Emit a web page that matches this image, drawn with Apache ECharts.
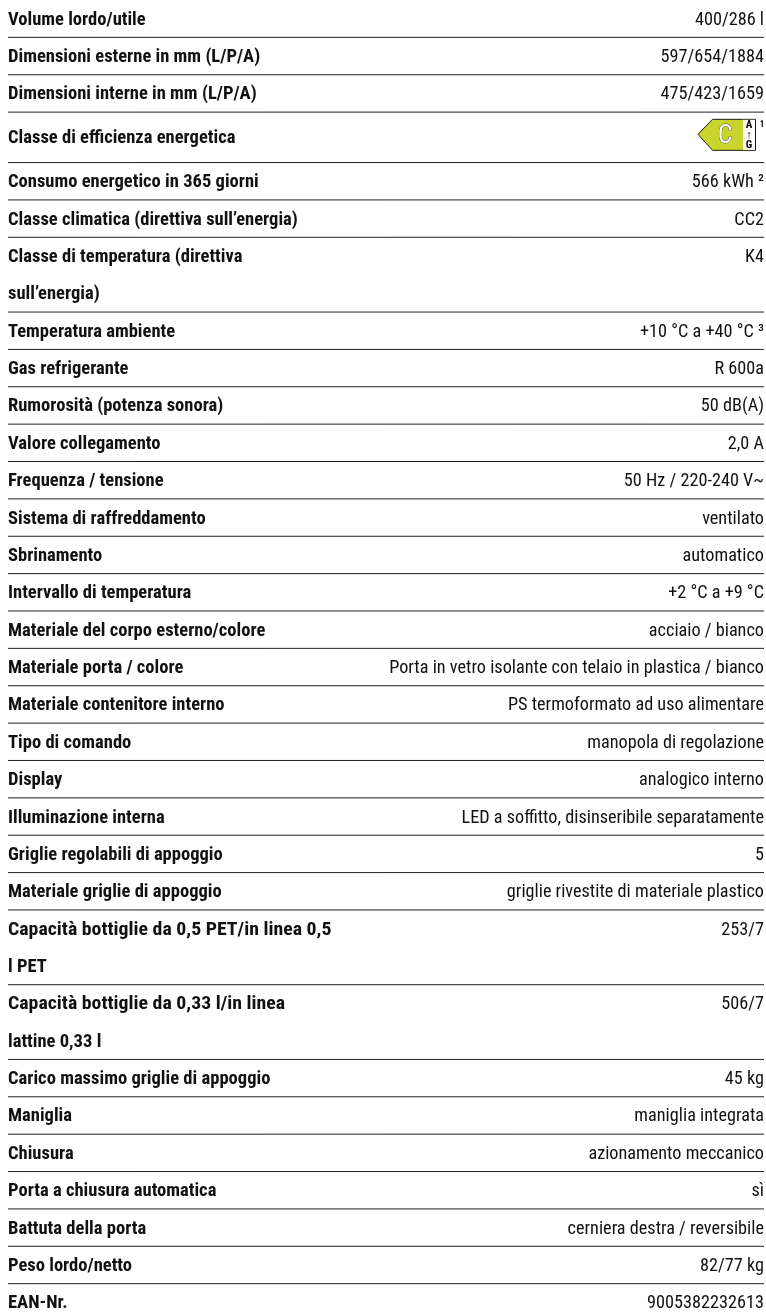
<!DOCTYPE html>
<html><head><meta charset="utf-8">
<style>html,body{margin:0;padding:0;background:#fff}#c{width:766px;height:1314px}</style>
<script src="https://cdn.jsdelivr.net/npm/echarts@6/dist/echarts.min.js"></script>
</head><body><div id="c"></div>
<script>
const labels = [
"Volume lordo/utile","Dimensioni esterne in mm (L/P/A)","Dimensioni interne in mm (L/P/A)","Classe di efficienza energetica",
"Consumo energetico in 365 giorni","Classe climatica (direttiva sull’energia)","Classe di temperatura (direttiva\nsull’energia)",
"Temperatura ambiente","Gas refrigerante","Rumorosità (potenza sonora)","Valore collegamento","Frequenza / tensione",
"Sistema di raffreddamento","Sbrinamento","Intervallo di temperatura","Materiale del corpo esterno/colore","Materiale porta / colore",
"Materiale contenitore interno","Tipo di comando","Display","Illuminazione interna","Griglie regolabili di appoggio",
"Materiale griglie di appoggio","Capacità bottiglie da 0,5 PET/in linea 0,5\nl PET","Capacità bottiglie da 0,33 l/in linea\nlattine 0,33 l",
"Carico massimo griglie di appoggio","Maniglia","Chiusura","Porta a chiusura automatica","Battuta della porta","Peso lordo/netto","EAN-Nr."];
const values = [
"400/286 l","597/654/1884","475/423/1659","","566 kWh ²","CC2","K4","+10 °C a +40 °C ³","R 600a","50 dB(A)","2,0 A","50 Hz / 220-240 V~",
"ventilato","automatico","+2 °C a +9 °C","acciaio / bianco","Porta in vetro isolante con telaio in plastica / bianco",
"PS termoformato ad uso alimentare","manopola di regolazione","analogico interno","LED a soffitto, disinseribile separatamente","5",
"griglie rivestite di materiale plastico","253/7","506/7","45 kg","maniglia integrata","azionamento meccanico","sì","cerniera destra / reversibile","82/77 kg","9005382232613"];
const energyClass = "C";
const energyScale = ["A","↑","G"];
const energyNote = "1";
const ENERGY_ROW = 3, ENERGY_SPAN = 1.35, ROW = 37.37;
const FONT = '"Liberation Sans Narrow", "Roboto Condensed", Roboto, sans-serif';

let cursor = 0;
const rows = labels.map((l,i)=>{
  const n = l.split("\n").length, span = i===ENERGY_ROW ? ENERGY_SPAN : n;
  const r = [i, cursor, cursor+span]; cursor += span; return r;
});
function txt(x,y,s,bold,align,size,fill,sx){
  return {type:'text',x,y,scaleX:sx||1,silent:true,style:{text:s,fill:fill||'#111',align,verticalAlign:'middle',
    font:`${bold?'bold ':''}${size||18}px ${FONT}`}};
}
function renderItem(p,api){
  const i=api.value(0), t=api.value(1), b=api.value(2);
  const L=api.coord([8,t])[0], R=api.coord([764,t])[0];
  const yb=api.coord([0,b])[1], yt=api.coord([0,t])[1];
  const ch=[];
  const parts=labels[i].split("\n");
  parts.forEach((s,k)=>{
    ch.push(txt(L,yt+(yb-yt)*(k+0.5)/parts.length+1.5,s,true,'left',18,null,s.startsWith('Capacità')?1.1:1.03));
  });
  const vy=yt+(yb-yt)*0.5/parts.length+1.5;
  if(values[i]) ch.push(txt(R,vy,values[i],false,'right',18,null,1.012));
  if(i===ENERGY_ROW){
    const c=(yt+yb)/2-3;
    ch.push({type:'polygon',silent:true,shape:{points:[[R-66,c],[R-51.5,c-15],[R-8.5,c-15],[R-8.5,c+16],[R-51.5,c+16]]},
      style:{fill:'#c9d52c',stroke:'#1b1b1b',lineWidth:1}});
    ch.push({type:'rect',silent:true,shape:{x:R-21,y:c-14.5,width:12,height:30},style:{fill:'#fff'}});
    ch.push({type:'text',x:R-39,y:c+2,silent:true,style:{text:energyClass,fill:'#fff',stroke:'#333',lineWidth:0.8,align:'center',verticalAlign:'middle',font:`26px ${FONT}`}});
    energyScale.forEach((s,k)=>ch.push(txt(R-15,c-9+k*10,s,true,'center',11,'#000')));
    ch.push(txt(R-2,c-10,energyNote,true,'center',9));
  }
  if(i<labels.length-1){
    ch.push({type:'line',silent:true,shape:{x1:L,y1:yb,x2:R,y2:yb},style:{stroke:'#222',lineWidth:1}});
  }
  return {type:'group',children:ch};
}
const chart=echarts.init(document.getElementById('c'),null,{renderer:'canvas'});
chart.setOption({
  animation:false,
  backgroundColor:'#fff',
  grid:{left:0,right:0,top:0,bottom:0},
  xAxis:{type:'value',min:0,max:766,show:false},
  yAxis:{type:'value',min:0,max:1314/ROW,inverse:true,show:false},
  series:[{type:'custom',renderItem,data:rows,clip:false}]
});
</script></body></html>
